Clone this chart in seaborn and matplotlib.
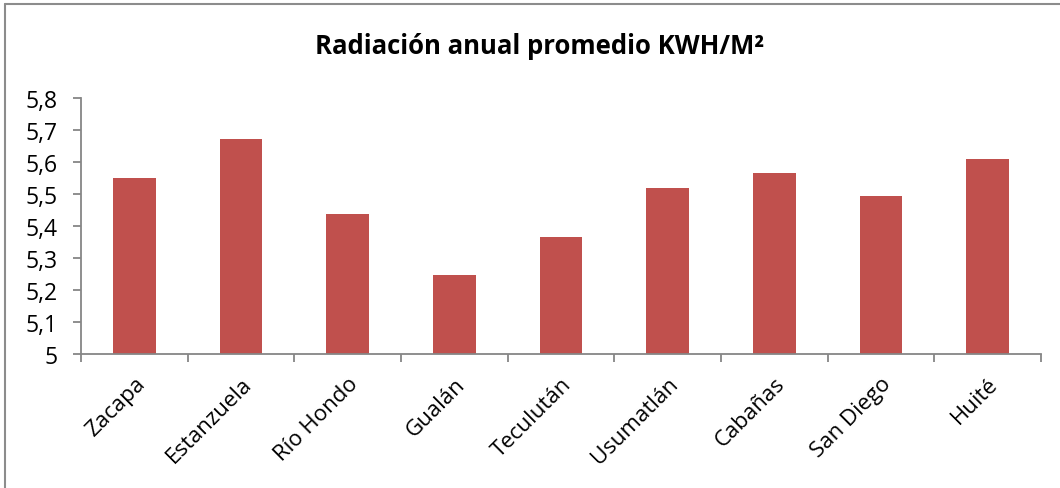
import matplotlib
matplotlib.use("Agg")
import matplotlib.pyplot as plt
import seaborn as sns
import pandas as pd
from matplotlib.ticker import FuncFormatter, FixedLocator
from matplotlib.lines import Line2D

categories = ["Zacapa", "Estanzuela", "Río Hondo", "Gualán", "Teculután",
              "Usumatlán", "Cabañas", "San Diego", "Huité"]
values = [5.55, 5.671, 5.437, 5.247, 5.365, 5.519, 5.565, 5.494, 5.609]
title = "Radiación anual promedio KWH/M²"

sns.set_theme(style="white")
plt.rcParams['font.family'] = ['Open Sans', 'DejaVu Sans']
plt.rcParams['text.color'] = 'black'
plt.rcParams['xtick.color'] = 'black'
plt.rcParams['ytick.color'] = 'black'

df = pd.DataFrame({"cat": categories, "val": values})

fig = plt.figure(figsize=(10.6, 4.89), dpi=100)
ax = fig.add_axes([81/1060, 1 - 354.7/489, (1041-81)/1060, (354.7-99)/489])

sns.barplot(data=df, x="cat", y="val", color="#C0504D", saturation=1,
            width=0.4, ax=ax, edgecolor="none")

ax.set_ylim(5, 5.8)
ax.set_xlim(-0.5, len(categories) - 0.5)
ax.set_yticks([5 + 0.1*i for i in range(9)])
ax.yaxis.set_major_formatter(FuncFormatter(lambda v, p: ("%g" % round(v, 1)).replace('.', ',')))

ax.xaxis.set_minor_locator(FixedLocator([i - 0.5 for i in range(len(categories) + 1)]))
ax.tick_params(axis='x', which='major', length=0, pad=14, labelcolor='black')
ax.tick_params(axis='x', which='minor', length=6, width=1.3, color='#868686', direction='out', bottom=True)
ax.tick_params(axis='y', which='major', length=6, width=1.3, color='#868686', direction='out', left=True, pad=11, labelcolor='black')
plt.setp(ax.get_xticklabels(), rotation=45, ha='right', rotation_mode='anchor', fontsize=16)
plt.setp(ax.get_yticklabels(), fontsize=16.5)

for side in ['top', 'right']:
    ax.spines[side].set_visible(False)
for side in ['left', 'bottom']:
    ax.spines[side].set_color('#868686')
    ax.spines[side].set_linewidth(1.3)

ax.set_xlabel("")
ax.set_ylabel("")

fig.text(540/1060, 1 - 47/489, title, ha='center', va='center', fontsize=18.5,
         fontweight='bold', color='black')

# outer chart border (only top/left visible in reference)
fig.add_artist(Line2D([4.5/1060, 1.0], [1 - 5/489, 1 - 5/489], transform=fig.transFigure, color='#8c8c8c', lw=1.5))
fig.add_artist(Line2D([4.5/1060, 4.5/1060], [0, 1 - 5/489], transform=fig.transFigure, color='#8c8c8c', lw=1.5))

fig.savefig("out.png", dpi=100)
